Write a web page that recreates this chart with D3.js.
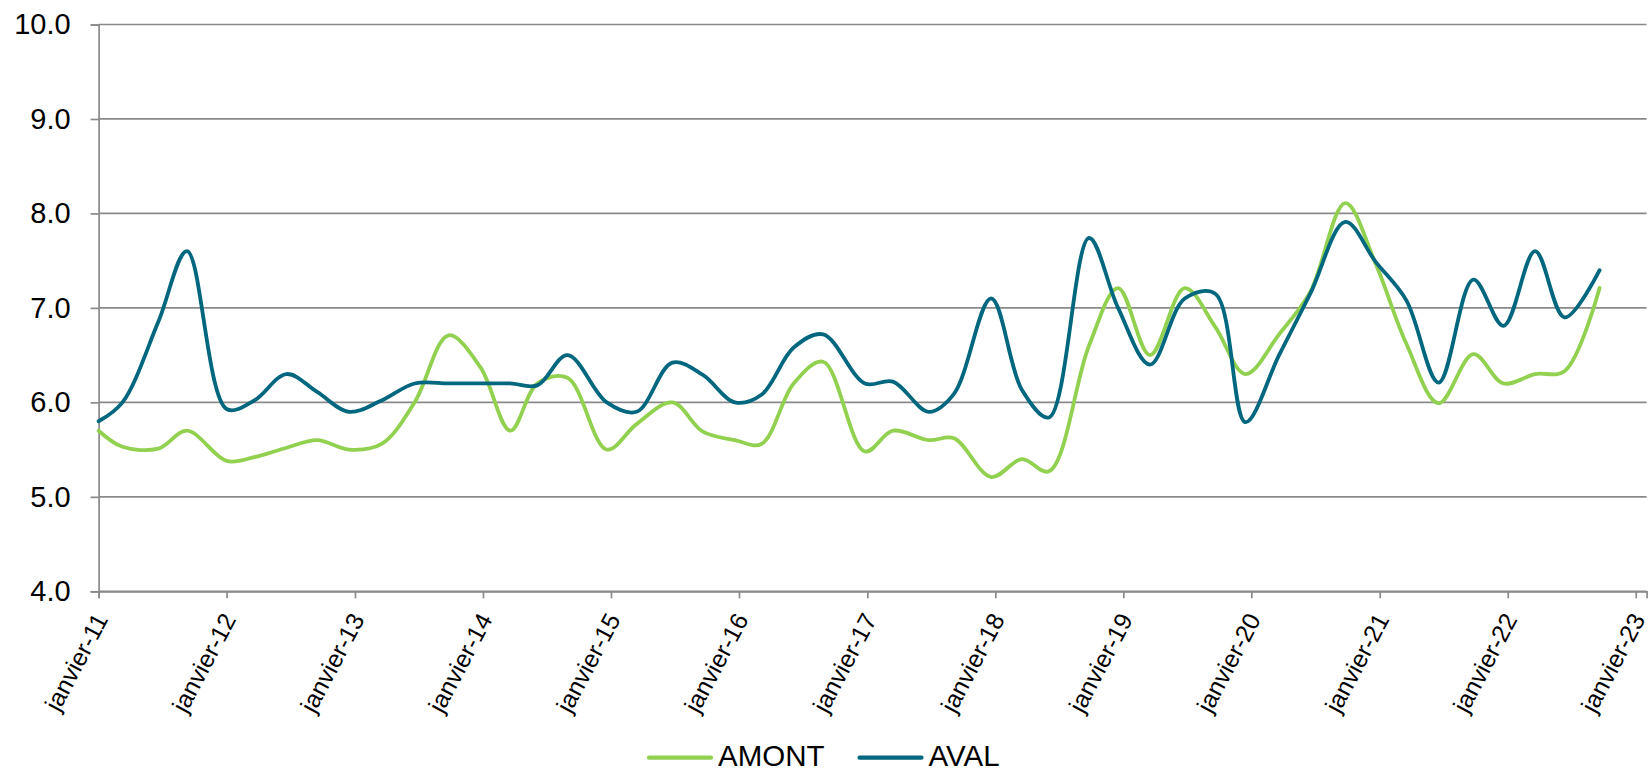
<!DOCTYPE html>
<html>
<head>
<meta charset="utf-8">
<script src="https://cdn.jsdelivr.net/npm/d3@7/dist/d3.min.js"></script>
<style>
  html, body { margin: 0; padding: 0; background: #ffffff; }
  svg { display: block; font-family: "Liberation Sans", Arial, sans-serif; }
</style>
</head>
<body>
<svg id="chart" width="1650" height="771"></svg>
<script>
// Sampling dates (shared by both stations)
const dates = [
  '2011-01-01','2011-03-10','2011-06-20','2011-09-10',
  '2012-01-01','2012-03-20','2012-06-20','2012-09-15','2012-12-15',
  '2013-03-18','2013-06-20','2013-09-25','2013-12-25',
  '2014-03-20','2014-06-05','2014-08-30','2014-12-20',
  '2015-03-15','2015-06-25','2015-09-20','2015-12-20',
  '2016-03-05','2016-06-05','2016-08-28','2016-12-25',
  '2017-03-15','2017-06-25','2017-09-05','2017-12-20',
  '2018-03-18','2018-06-03','2018-09-25','2018-12-17',
  '2019-03-18','2019-06-25','2019-09-20','2019-12-15',
  '2020-03-20','2020-06-17','2020-09-25','2020-12-20',
  '2021-03-18','2021-06-18','2021-09-25','2021-12-20',
  '2022-03-20','2022-06-12','2022-09-20'
];

// Upstream station
const amont = [
  5.70, 5.53, 5.51, 5.70,
  5.38, 5.42, 5.52, 5.60, 5.50,
  5.56, 6.00, 6.71, 6.37,
  5.70, 6.20, 6.26, 5.50,
  5.77, 6.00, 5.69, 5.60,
  5.56, 6.20, 6.43, 5.48,
  5.70, 5.60, 5.62, 5.21,
  5.40, 5.27, 6.60, 7.21,
  6.50, 7.21, 6.80, 6.30,
  6.72, 7.17, 8.11, 7.47,
  6.62, 5.99, 6.51, 6.20,
  6.30, 6.33, 7.21
];

// Downstream station
const aval = [
  5.80, 6.00, 6.85, 7.60,
  5.93, 6.02, 6.30, 6.11, 5.90,
  6.02, 6.20, 6.20, 6.20,
  6.20, 6.18, 6.50, 6.00,
  5.90, 6.42, 6.29, 6.00,
  6.08, 6.58, 6.72, 6.20,
  6.22, 5.90, 6.09, 7.10,
  6.13, 5.84, 7.74, 7.00,
  6.40, 7.10, 7.15, 5.79,
  6.50, 7.15, 7.91, 7.49,
  7.08, 6.21, 7.30, 6.81,
  7.60, 6.90, 7.40
];

const yTicks = [4, 5, 6, 7, 8, 9, 10];
const tickYears = d3.range(2011, 2024);
const monthNames = ['janvier'];

const seriesNames = ['AMONT', 'AVAL'];
const seriesColors = ['#92d050', '#00677f'];

// Layout
const plot = { left: 98.6, top: 24.5, bottom: 591.3 };
const parse = d3.utcParse('%Y-%m-%d');

const x = d3.scaleUtc()
  .domain([new Date(Date.UTC(2011, 0, 1)), new Date(Date.UTC(2023, 1, 1))])
  .range([plot.left, 1646.6]);
const y = d3.scaleLinear().domain([4, 10]).range([plot.bottom, plot.top]);

const svg = d3.select('#chart');
const gridColor = '#8a8a8a';

// Horizontal gridlines
svg.append('g').selectAll('line')
  .data(yTicks)
  .join('line')
  .attr('x1', plot.left).attr('x2', x.range()[1])
  .attr('y1', d => y(d)).attr('y2', d => y(d))
  .attr('stroke', gridColor).attr('stroke-width', 1.7);

// Y axis
const yAxis = svg.append('g')
  .attr('transform', `translate(${plot.left},0)`)
  .call(d3.axisLeft(y).tickValues(yTicks).tickFormat(d3.format('.1f'))
    .tickSize(8).tickPadding(20));
yAxis.select('.domain').attr('stroke', gridColor).attr('stroke-width', 1.7);
yAxis.selectAll('.tick line').attr('stroke', gridColor).attr('stroke-width', 1.7);
yAxis.selectAll('.tick text')
  .attr('font-size', 29).attr('fill', '#000')
  .attr('font-family', '"Liberation Sans", Arial, sans-serif');

// X axis
const xTickDates = tickYears.map(yr => new Date(Date.UTC(yr, 0, 1)));
const xAxis = svg.append('g')
  .attr('transform', `translate(0,${plot.bottom})`)
  .call(d3.axisBottom(x).tickValues(xTickDates).tickSize(7).tickFormat(''));
xAxis.select('.domain').attr('stroke', gridColor).attr('stroke-width', 1.7);
xAxis.selectAll('.tick line').attr('stroke', gridColor).attr('stroke-width', 1.7);

// Rotated date labels
svg.append('g').selectAll('text')
  .data(xTickDates)
  .join('text')
  .attr('transform', d => `translate(${x(d) + 2.5},${plot.bottom + 24}) rotate(-62)`)
  .attr('text-anchor', 'end')
  .attr('dy', '0.35em')
  .attr('font-size', 24.5)
  .attr('fill', '#000')
  .text(d => `${monthNames[0]}-${String(d.getUTCFullYear()).slice(2)}`);

// Series lines
const line = d3.line()
  .x(d => x(d.date))
  .y(d => y(d.value))
  .curve(d3.curveCatmullRom.alpha(0.5));

const series = [amont, aval].map((vals, i) => ({
  name: seriesNames[i],
  color: seriesColors[i],
  points: vals.map((v, j) => ({ date: parse(dates[j]), value: v }))
}));

svg.append('g').selectAll('path')
  .data(series)
  .join('path')
  .attr('d', s => line(s.points))
  .attr('fill', 'none')
  .attr('stroke', s => s.color)
  .attr('stroke-width', 3.8)
  .attr('stroke-linejoin', 'round')
  .attr('stroke-linecap', 'round');

// Legend
const legendItems = [
  { name: seriesNames[0], color: seriesColors[0], x: 649 },
  { name: seriesNames[1], color: seriesColors[1], x: 859.5 }
];
const lg = svg.append('g').selectAll('g')
  .data(legendItems)
  .join('g')
  .attr('transform', d => `translate(${d.x},757.7)`);
lg.append('line')
  .attr('x1', 0).attr('x2', 62)
  .attr('stroke', d => d.color)
  .attr('stroke-width', 4.2)
  .attr('stroke-linecap', 'round');
lg.append('text')
  .attr('x', 69).attr('y', 8.5)
  .attr('font-size', 29.5)
  .attr('fill', '#000')
  .text(d => d.name);
</script>
</body>
</html>
